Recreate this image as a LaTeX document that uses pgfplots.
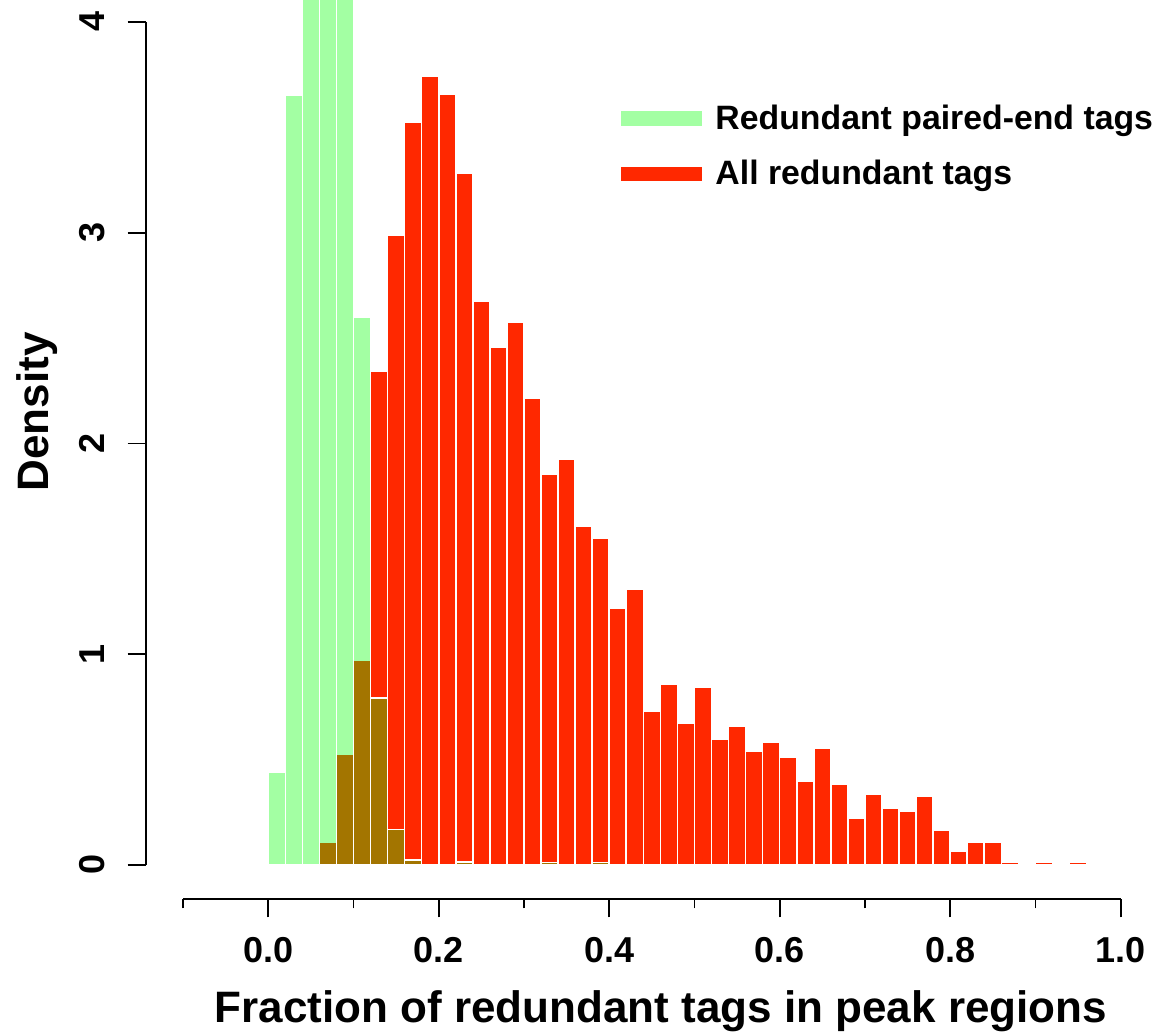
\documentclass[border=0pt]{standalone}
\usepackage{fontspec}
\setmainfont{Liberation Sans}
\usepackage{pgfplots}
\pgfplotsset{compat=1.18}

\definecolor{tagred}{RGB}{255,40,0}
\definecolor{pegreen}{RGB}{0,255,0}
\definecolor{pegreenpale}{RGB}{163,255,163}

\begin{document}
\begin{tikzpicture}
\begin{axis}[
  name=ax,
  scale only axis,
  width=506.06pt, height=449.65pt,
  xmin=-0.1438, xmax=1.0436,
  ymin=-0.163, ymax=4.104,
  clip mode=individual,
  axis x line*=bottom, axis y line*=left,
  axis line style={draw=none},
  tick align=outside,
  xtick={0,0.2,0.4,0.6,0.8,1.0},
  xticklabels={0.0,0.2,0.4,0.6,0.8,1.0},
  minor xtick={-0.1,0.1,0.3,0.5,0.7,0.9},
  ytick={0,1,2,3,4},
  yticklabels={0,1,2,3,4},
  major tick length=9pt,
  minor tick length=4.5pt,
  every tick/.style={black, line width=0.9pt},
  /pgf/number format/assume math mode=true,
  ticklabel style={font=\bfseries\fontsize{18}{18}\selectfont, inner sep=0pt},
  xticklabel style={anchor=north},
  xticklabel shift=9.7pt,
  yticklabel style={rotate=90, anchor=base},
  yticklabel shift=11.35pt,
  xlabel={Fraction of redundant tags in peak regions},
  xlabel style={at={(axis description cs:0.509,0)}, anchor=base, yshift=-61.7pt,
    font=\bfseries\fontsize{22}{22}\selectfont, inner sep=0pt},
  ylabel={Density},
  ylabel style={at={(axis description cs:-0.0965,0.542)}, anchor=base,
    font=\bfseries\fontsize{22}{22}\selectfont, inner sep=0pt},
  reverse legend,
  legend cell align=left,
  legend style={draw=none, fill=none, inner sep=0pt, outer sep=0pt,
    at={(axis description cs:0.4706,0.8372)}, anchor=west, xshift=-4pt,
    font=\bfseries\fontsize{16.9}{20}\selectfont,
    row sep=14pt, column sep=3pt,
    nodes={inner sep=0pt}},
]

% all redundant tags (opaque red histogram, bin width 0.02)
\addplot[ybar interval, fill=tagred, draw=white, line width=0.8pt,
  legend image code/.code={\draw[line width=7.25pt, tagred] (0pt,0pt) -- (40.5pt,0pt);}]
  coordinates {
  (0.06,0.108) (0.08,0.527) (0.10,0.973) (0.12,2.344) (0.14,2.990)
  (0.16,3.524) (0.18,3.742) (0.20,3.655) (0.22,3.280) (0.24,2.676)
  (0.26,2.458) (0.28,2.573) (0.30,2.214) (0.32,1.855) (0.34,1.926)
  (0.36,1.609) (0.38,1.552) (0.40,1.220) (0.42,1.310) (0.44,0.729)
  (0.46,0.859) (0.48,0.671) (0.50,0.845) (0.52,0.598) (0.54,0.658)
  (0.56,0.541) (0.58,0.584) (0.60,0.512) (0.62,0.397) (0.64,0.555)
  (0.66,0.383) (0.68,0.224) (0.70,0.338) (0.72,0.267) (0.74,0.253)
  (0.76,0.324) (0.78,0.166) (0.80,0.065) (0.82,0.109) (0.84,0.109)
  (0.86,0.012) (0.88,0.000) (0.90,0.012) (0.92,0.000) (0.94,0.012)
  (0.96,0)
  };
\addlegendentry{All redundant tags}

% redundant paired-end tags (translucent green histogram on top)
\addplot[ybar interval, fill=pegreen, fill opacity=0.36, draw=white, line width=0.8pt,
  legend image code/.code={\draw[line width=7.25pt, pegreenpale] (0pt,0pt) -- (40.5pt,0pt);}]
  coordinates {
  (0.00,0.440) (0.02,3.654) (0.04,10.90) (0.06,17.20) (0.08,14.10)
  (0.10,2.600) (0.12,0.791) (0.14,0.169) (0.16,0.024) (0.18,0.000)
  (0.20,0.000) (0.22,0.014) (0.24,0.000) (0.26,0.000) (0.28,0.000)
  (0.30,0.000) (0.32,0.012) (0.34,0.000) (0.36,0.000) (0.38,0.012)
  (0.40,0)
  };
\addlegendentry{Redundant paired-end tags}

% axis lines span only the tick range
\draw[line width=0.9pt] (axis cs:-0.1,-0.163) -- (axis cs:1.0,-0.163);
\draw[line width=0.9pt] (axis cs:-0.1438,0) -- (axis cs:-0.1438,4);
\end{axis}
\pgfresetboundingbox
\path ([shift={(-72.85pt,-68.35pt)}]ax.south west) rectangle ([shift={(4.6pt,0pt)}]ax.north east);
\end{tikzpicture}
\end{document}
